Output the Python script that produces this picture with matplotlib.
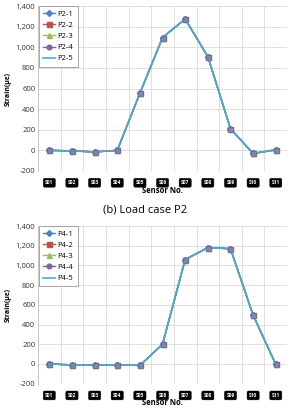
import matplotlib
matplotlib.use("Agg")
import matplotlib.pyplot as plt
import numpy as np

plt.rcParams['font.family'] = ['Open Sans', 'DejaVu Sans']

sensors = ["S01", "S02", "S03", "S04", "S05", "S06", "S07", "S08", "S09", "S10", "S11"]

# Load case P2 (five repeated runs, overlapping)
p2_1 = [0, -5, -15, 0, 555, 1095, 1275, 910, 210, -30, 5]
p2_2 = [0, -5, -15, 0, 555, 1095, 1275, 910, 210, -30, 5]
p2_3 = [0, -5, -15, 0, 555, 1095, 1275, 910, 210, -30, 5]
p2_4 = [0, -5, -15, 0, 555, 1095, 1275, 910, 210, -30, 5]
p2_5 = [0, -5, -15, 0, 555, 1095, 1275, 910, 210, -30, 5]

# Load case P4
p4_1 = [0, -10, -10, -10, -15, 200, 1060, 1180, 1170, 495, -5]
p4_2 = [0, -10, -10, -10, -15, 200, 1060, 1180, 1170, 495, -5]
p4_3 = [0, -10, -10, -10, -15, 200, 1060, 1180, 1170, 495, -5]
p4_4 = [0, -10, -10, -10, -15, 200, 1060, 1180, 1170, 495, -5]
p4_5 = [0, -10, -10, -10, -15, 200, 1060, 1180, 1170, 495, -5]

yticks = [-200, 0, 200, 400, 600, 800, 1000, 1200, 1400]

styles = [
    dict(marker='D', color='#4F81BD', ms=3.0),
    dict(marker='s', color='#C0504D', ms=3.6),
    dict(marker='^', color='#9BBB59', ms=3.6),
    dict(marker='o', color='#8064A2', ms=3.4),
    dict(marker=None, color='#4BACC6', ms=0),
]

fig = plt.figure(figsize=(2.90, 4.09), dpi=100)

def draw(ax, series, labels, xlabelpad):
    x = np.arange(len(sensors))
    for i, (vals, lab, st) in enumerate(zip(series, labels, styles)):
        if st['marker'] is None:
            ax.plot(x, vals, color=st['color'], lw=1.2, label=lab, zorder=5)
        else:
            ax.plot(x, vals, color=st['color'], lw=1.0, marker=st['marker'],
                    ms=st['ms'], mfc=st['color'], mec=st['color'], label=lab,
                    zorder=3 + i * 0.1)
    # overlay blended marker look
    ax.plot(x, series[1], ls='none', marker='s', ms=3.6, mfc='#7D84AE',
            mec='#5A6E9A', mew=0.5, zorder=6)
    ax.set_xlim(-0.5, len(sensors) - 0.5)
    ax.set_ylim(-200, 1400)
    ax.set_yticks(yticks)
    ax.set_yticklabels([f"{v:,}" for v in yticks], fontsize=5.5, color='#333333')
    ax.set_xticks(x)
    ax.set_xticklabels([])
    ax.set_xticks(np.arange(0.5, len(sensors) - 0.5, 1), minor=True)
    ax.tick_params(axis='both', which='both', length=0, pad=2)
    ax.grid(True, axis='y', color='#D9D9D9', lw=0.6)
    ax.grid(True, axis='x', which='minor', color='#D9D9D9', lw=0.6)
    ax.set_axisbelow(True)
    for s in ['top', 'right', 'bottom']:
        ax.spines[s].set_visible(False)
    ax.spines['left'].set_color('#BFBFBF')
    ax.spines['left'].set_linewidth(0.6)
    for xi, s in zip(x, sensors):
        ax.annotate(s, xy=(xi, 0), xycoords=('data', 'axes fraction'),
                    xytext=(0, -8.5), textcoords='offset points',
                    ha='center', va='center', fontsize=3.5, color='white',
                    fontweight='bold',
                    bbox=dict(boxstyle='round,pad=0.4,rounding_size=0.3',
                              fc='black', ec='black', lw=0.3))
    ax.set_ylabel('Strain(\u03bc\u03b5)', fontsize=5, fontweight='bold', labelpad=3)
    ax.set_xlabel('Sensor No.', fontsize=5.5, fontweight='bold', labelpad=xlabelpad)
    leg = ax.legend(loc='upper left', fontsize=5.5, frameon=True, fancybox=False,
                    edgecolor='#808080', borderaxespad=0, handlelength=1.6,
                    labelspacing=0.5, borderpad=0.55, handletextpad=0.3,
                    bbox_to_anchor=(0.004, 1.0))
    leg.get_frame().set_linewidth(0.6)

ax1 = fig.add_axes([0.131, 0.582, 0.859, 0.403])
draw(ax1, [p2_1, p2_2, p2_3, p2_4, p2_5], ["P2-1", "P2-2", "P2-3", "P2-4", "P2-5"], 9)

ax2 = fig.add_axes([0.131, 0.062, 0.859, 0.3854])
draw(ax2, [p4_1, p4_2, p4_3, p4_4, p4_5], ["P4-1", "P4-2", "P4-3", "P4-4", "P4-5"], 8.5)

fig.text(0.5, 1 - 210 / 409, "(b) Load case P2", ha='center', va='center', fontsize=8)

fig.savefig("out.png", dpi=100)
